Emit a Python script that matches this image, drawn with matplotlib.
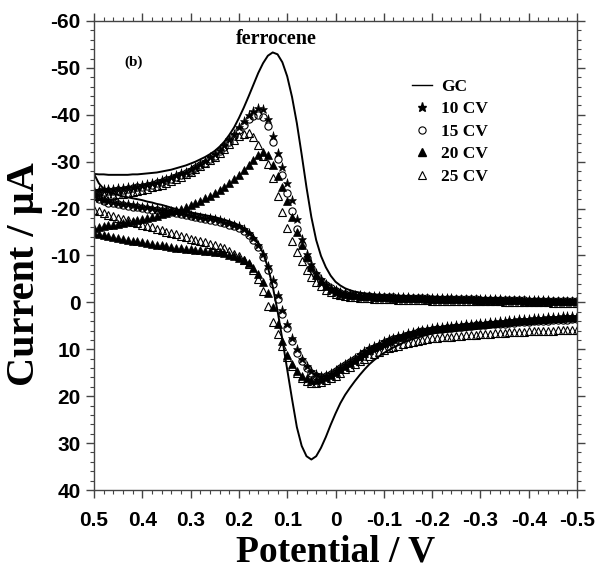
import numpy as np
import matplotlib
matplotlib.use("Agg")
import matplotlib.pyplot as plt
from matplotlib.lines import Line2D
from matplotlib.ticker import MultipleLocator, FuncFormatter

# Potential grid of the sweep: 0.50 V down to -0.50 V in 0.01 V steps (101 points)
potential = np.round(np.linspace(0.5, -0.5, 101), 2)

# ---- GC (solid line) ----
gc_anodic = [
    -27.4, -27.3, -27.3, -27.2, -27.2, -27.2, -27.2, -27.2, -27.3, -27.3,
    -27.4, -27.5, -27.6, -27.7, -27.9, -28.1, -28.3, -28.6, -28.9, -29.2,
    -29.6, -30.0, -30.5, -31.0, -31.6, -32.3, -33.2, -34.3, -35.7, -37.3,
    -39.3, -41.5, -43.9, -46.4, -48.9, -51.0, -52.6, -53.3, -52.9, -51.2,
    -48.2, -43.8, -38.2, -31.5, -24.5, -18.2, -13.3, -9.9, -7.5, -5.7,
    -4.4, -3.6, -3.0, -2.6, -2.3, -2.1, -1.9, -1.8, -1.7, -1.6,
    -1.5, -1.5, -1.4, -1.4, -1.4, -1.3, -1.3, -1.3, -1.2, -1.2,
    -1.2, -1.2, -1.1, -1.1, -1.1, -1.1, -1.0, -1.0, -1.0, -1.0,
    -1.0, -0.9, -0.9, -0.9, -0.9, -0.8, -0.8, -0.8, -0.8, -0.7,
    -0.7, -0.7, -0.7, -0.6, -0.6, -0.6, -0.6, -0.5, -0.5, -0.5,
    -0.4]
gc_cathodic = [
    -27.4, -25.4, -24.2, -23.6, -23.2, -22.9, -22.6, -22.4, -22.2, -22.0,
    -21.8, -21.5, -21.3, -21.0, -20.8, -20.5, -20.2, -19.9, -19.6, -19.4,
    -19.2, -19.0, -18.8, -18.6, -18.4, -18.2, -17.9, -17.6, -17.3, -16.9,
    -16.4, -15.8, -15.0, -14.0, -12.6, -10.5, -7.5, -3.4, 1.8, 7.9,
    14.3, 20.6, 26.6, 30.6, 32.8, 33.5, 32.8, 31.0, 28.7, 26.1,
    23.7, 21.5, 19.7, 18.2, 16.8, 15.5, 14.3, 13.2, 12.3, 11.5,
    10.8, 10.2, 9.6, 9.1, 8.6, 8.2, 7.8, 7.5, 7.2, 6.9,
    6.6, 6.5, 6.4, 6.3, 6.2, 6.1, 6.0, 5.9, 5.8, 5.7,
    5.6, 5.5, 5.4, 5.3, 5.2, 5.1, 5.0, 4.9, 4.8, 4.7,
    4.7, 4.6, 4.5, 4.4, 4.4, 4.3, 4.2, 4.2, 4.1, 4.1,
    4.0]

# ---- 10 CV (stars) ----
cv10_anodic = [
    -24.0, -24.0, -24.1, -24.1, -24.2, -24.3, -24.4, -24.5, -24.6, -24.8,
    -25.0, -25.2, -25.4, -25.7, -26.0, -26.3, -26.7, -27.1, -27.5, -27.9,
    -28.4, -28.9, -29.5, -30.2, -30.9, -31.7, -32.6, -33.6, -34.8, -36.0,
    -37.3, -38.7, -39.9, -40.8, -41.4, -41.2, -39.2, -35.5, -31.8, -28.8,
    -25.5, -21.9, -17.8, -13.6, -10.4, -8.1, -6.3, -4.9, -3.9, -3.1,
    -2.6, -2.2, -1.9, -1.7, -1.6, -1.5, -1.4, -1.4, -1.3, -1.3,
    -1.2, -1.2, -1.2, -1.1, -1.1, -1.1, -1.0, -1.0, -1.0, -1.0,
    -0.9, -0.9, -0.9, -0.9, -0.9, -0.8, -0.8, -0.8, -0.8, -0.8,
    -0.7, -0.7, -0.7, -0.7, -0.7, -0.6, -0.6, -0.6, -0.6, -0.6,
    -0.5, -0.5, -0.5, -0.5, -0.5, -0.4, -0.4, -0.4, -0.4, -0.4,
    -0.3]
cv10_cathodic = [
    -23.0, -22.3, -21.9, -21.6, -21.4, -21.2, -21.0, -20.9, -20.7, -20.6,
    -20.4, -20.3, -20.1, -20.0, -19.8, -19.7, -19.5, -19.3, -19.1, -18.9,
    -18.7, -18.5, -18.3, -18.1, -17.9, -17.7, -17.5, -17.2, -16.9, -16.6,
    -16.2, -15.6, -14.8, -13.8, -12.3, -10.3, -7.7, -4.7, -1.5, 1.6,
    4.7, 7.6, 10.0, 12.0, 13.5, 14.6, 15.3, 15.6, 15.5, 15.0,
    14.4, 13.8, 13.2, 12.5, 11.8, 11.1, 10.4, 9.8, 9.3, 8.8,
    8.3, 7.9, 7.5, 7.2, 6.9, 6.6, 6.3, 6.0, 5.8, 5.6,
    5.4, 5.3, 5.2, 5.1, 5.0, 4.9, 4.8, 4.7, 4.6, 4.5,
    4.4, 4.3, 4.2, 4.1, 4.0, 3.9, 3.8, 3.7, 3.6, 3.5,
    3.5, 3.4, 3.3, 3.3, 3.2, 3.1, 3.1, 3.0, 2.9, 2.9,
    2.8]

# ---- 15 CV (open circles) ----
cv15_anodic = [
    -23.4, -23.5, -23.6, -23.7, -23.8, -23.9, -24.0, -24.1, -24.3, -24.5,
    -24.7, -24.9, -25.1, -25.4, -25.7, -26.0, -26.4, -26.8, -27.2, -27.6,
    -28.1, -28.6, -29.2, -29.8, -30.5, -31.3, -32.2, -33.2, -34.3, -35.5,
    -36.7, -37.9, -39.0, -39.7, -40.0, -39.5, -37.6, -34.2, -30.6, -27.2,
    -23.4, -19.4, -15.6, -12.2, -9.5, -7.4, -5.8, -4.6, -3.7, -3.0,
    -2.5, -2.1, -1.8, -1.6, -1.5, -1.4, -1.3, -1.3, -1.2, -1.2,
    -1.1, -1.1, -1.1, -1.0, -1.0, -1.0, -0.9, -0.9, -0.9, -0.9,
    -0.8, -0.8, -0.8, -0.8, -0.8, -0.7, -0.7, -0.7, -0.7, -0.7,
    -0.6, -0.6, -0.6, -0.6, -0.6, -0.5, -0.5, -0.5, -0.5, -0.5,
    -0.4, -0.4, -0.4, -0.4, -0.4, -0.3, -0.3, -0.3, -0.3, -0.3,
    -0.2]
cv15_cathodic = [
    -22.6, -22.0, -21.6, -21.3, -21.1, -20.9, -20.7, -20.6, -20.4, -20.3,
    -20.1, -20.0, -19.8, -19.7, -19.5, -19.4, -19.2, -19.0, -18.8, -18.6,
    -18.4, -18.2, -18.0, -17.8, -17.6, -17.4, -17.2, -16.9, -16.6, -16.2,
    -15.8, -15.2, -14.4, -13.3, -11.8, -9.7, -7.0, -3.9, -0.7, 2.5,
    5.5, 8.3, 10.7, 12.6, 14.0, 15.0, 15.6, 15.8, 15.6, 15.2,
    14.6, 14.0, 13.4, 12.8, 12.1, 11.4, 10.8, 10.2, 9.7, 9.2,
    8.7, 8.3, 7.9, 7.6, 7.3, 7.0, 6.7, 6.4, 6.2, 6.0,
    5.8, 5.7, 5.6, 5.5, 5.4, 5.3, 5.2, 5.1, 5.0, 4.9,
    4.9, 4.8, 4.7, 4.6, 4.5, 4.5, 4.4, 4.3, 4.2, 4.2,
    4.1, 4.0, 4.0, 3.9, 3.9, 3.8, 3.8, 3.7, 3.7, 3.6,
    3.6]

# ---- 20 CV (filled triangles) ----
cv20_anodic = [
    -15.8, -16.0, -16.2, -16.4, -16.6, -16.8, -17.0, -17.2, -17.4, -17.6,
    -17.8, -18.0, -18.2, -18.5, -18.8, -19.1, -19.4, -19.7, -20.0, -20.4,
    -20.8, -21.2, -21.7, -22.2, -22.7, -23.3, -23.9, -24.6, -25.4, -26.3,
    -27.2, -28.2, -29.2, -30.3, -31.5, -32.1, -31.4, -29.2, -27.0, -24.6,
    -21.6, -18.2, -15.0, -12.3, -9.6, -7.5, -5.8, -4.6, -3.6, -2.9,
    -2.4, -2.0, -1.8, -1.6, -1.5, -1.4, -1.3, -1.3, -1.2, -1.2,
    -1.1, -1.1, -1.0, -1.0, -1.0, -0.9, -0.9, -0.9, -0.9, -0.8,
    -0.8, -0.8, -0.8, -0.8, -0.7, -0.7, -0.7, -0.7, -0.7, -0.6,
    -0.6, -0.6, -0.6, -0.6, -0.5, -0.5, -0.5, -0.5, -0.5, -0.4,
    -0.4, -0.4, -0.4, -0.4, -0.3, -0.3, -0.3, -0.3, -0.3, -0.2,
    -0.2]
cv20_cathodic = [
    -14.7, -14.5, -14.3, -14.1, -13.9, -13.7, -13.5, -13.3, -13.1, -13.0,
    -12.8, -12.6, -12.5, -12.3, -12.2, -12.0, -11.9, -11.7, -11.6, -11.4,
    -11.3, -11.2, -11.1, -11.0, -10.9, -10.8, -10.7, -10.5, -10.2, -9.9,
    -9.5, -9.0, -8.3, -7.4, -6.0, -4.3, -2.0, 1.0, 4.6, 8.3,
    11.2, 13.2, 14.6, 15.6, 16.2, 16.5, 16.5, 16.3, 15.9, 15.4,
    14.8, 14.2, 13.5, 12.9, 12.2, 11.5, 10.8, 10.2, 9.6, 9.1,
    8.6, 8.2, 7.8, 7.4, 7.1, 6.8, 6.5, 6.2, 6.0, 5.8,
    5.6, 5.5, 5.4, 5.3, 5.2, 5.1, 5.0, 4.9, 4.8, 4.7,
    4.6, 4.5, 4.4, 4.3, 4.2, 4.1, 4.0, 3.9, 3.8, 3.7,
    3.7, 3.6, 3.5, 3.5, 3.4, 3.3, 3.3, 3.2, 3.1, 3.1,
    3.0]

# ---- 25 CV (open triangles) ----
cv25_anodic = [
    -22.6, -22.7, -22.8, -22.9, -23.0, -23.1, -23.2, -23.4, -23.6, -23.8,
    -24.0, -24.2, -24.5, -24.8, -25.1, -25.5, -25.9, -26.3, -26.8, -27.3,
    -27.8, -28.4, -29.0, -29.7, -30.4, -31.1, -31.9, -32.8, -33.7, -34.6,
    -35.4, -35.9, -36.1, -35.3, -33.5, -31.2, -29.6, -26.6, -22.7, -19.2,
    -15.9, -13.0, -10.7, -8.8, -7.0, -5.5, -4.3, -3.4, -2.7, -2.2,
    -1.8, -1.5, -1.3, -1.2, -1.1, -1.0, -0.9, -0.9, -0.8, -0.8,
    -0.7, -0.7, -0.7, -0.6, -0.6, -0.6, -0.5, -0.5, -0.5, -0.5,
    -0.4, -0.4, -0.4, -0.4, -0.4, -0.3, -0.3, -0.3, -0.3, -0.3,
    -0.2, -0.2, -0.2, -0.2, -0.2, -0.1, -0.1, -0.1, -0.1, -0.1,
    0.0, 0.0, 0.0, 0.0, 0.0, 0.1, 0.1, 0.1, 0.1, 0.1,
    0.2]
cv25_cathodic = [
    -19.8, -19.4, -19.0, -18.7, -18.4, -18.1, -17.8, -17.5, -17.2, -16.9,
    -16.6, -16.3, -16.0, -15.7, -15.4, -15.1, -14.8, -14.5, -14.2, -13.9,
    -13.6, -13.4, -13.1, -12.8, -12.5, -12.2, -11.9, -11.5, -11.0, -10.4,
    -9.8, -9.1, -8.2, -6.9, -5.0, -2.4, 0.8, 4.2, 6.8, 9.2,
    11.6, 13.5, 15.0, 16.1, 16.8, 17.1, 17.1, 16.9, 16.6, 16.2,
    15.6, 15.0, 14.3, 13.7, 13.1, 12.5, 12.0, 11.5, 11.0, 10.6,
    10.2, 9.8, 9.5, 9.2, 8.9, 8.6, 8.4, 8.2, 8.0, 7.8,
    7.6, 7.5, 7.4, 7.3, 7.3, 7.2, 7.1, 7.0, 7.0, 6.9,
    6.8, 6.8, 6.7, 6.6, 6.6, 6.5, 6.4, 6.4, 6.3, 6.3,
    6.2, 6.2, 6.1, 6.1, 6.0, 6.0, 5.9, 5.9, 5.9, 5.8,
    5.8]

legend_labels = ["GC", "10 CV", "15 CV", "20 CV", "25 CV"]
x_ticks = [0.5, 0.4, 0.3, 0.2, 0.1, 0.0, -0.1, -0.2, -0.3, -0.4, -0.5]
y_ticks = [-60, -50, -40, -30, -20, -10, 0, 10, 20, 30, 40]

plt.rcParams['axes.unicode_minus'] = False
serif = ['Liberation Serif', 'DejaVu Serif']
sans = ['Liberation Sans', 'DejaVu Sans']

fig = plt.figure(figsize=(5.95, 5.69), dpi=100)
ax = fig.add_axes([94/595, 1-490/569, (577-94)/595, (490-21)/569])

mew = 0.8
ax.plot(potential, cv25_anodic, ls='none', marker='^', ms=5.4, mfc='none', mec='black', mew=mew)
ax.plot(potential, cv25_cathodic, ls='none', marker='^', ms=5.4, mfc='none', mec='black', mew=mew)
ax.plot(potential, cv15_anodic, ls='none', marker='o', ms=5.2, mfc='none', mec='black', mew=mew)
ax.plot(potential, cv15_cathodic, ls='none', marker='o', ms=5.2, mfc='none', mec='black', mew=mew)
ax.plot(potential, cv20_anodic, ls='none', marker='^', ms=5.4, mfc='black', mec='black', mew=0.5)
ax.plot(potential, cv20_cathodic, ls='none', marker='^', ms=5.4, mfc='black', mec='black', mew=0.5)
ax.plot(potential, cv10_anodic, ls='none', marker='*', ms=6.8, mfc='black', mec='black', mew=0.4)
ax.plot(potential, cv10_cathodic, ls='none', marker='*', ms=6.8, mfc='black', mec='black', mew=0.4)
ax.plot(potential, gc_anodic, color='black', lw=1.4)
ax.plot(potential, gc_cathodic, color='black', lw=1.4)

ax.set_xlim(0.5, -0.5)
ax.set_ylim(40, -60)
ax.set_xticks(x_ticks)
ax.set_yticks(y_ticks)
ax.xaxis.set_minor_locator(MultipleLocator(0.02))
ax.yaxis.set_minor_locator(MultipleLocator(2))
ax.xaxis.set_major_formatter(FuncFormatter(lambda v, p: "0" if abs(v) < 1e-9 else f"{v:g}"))
ax.yaxis.set_major_formatter(FuncFormatter(lambda v, p: f"{v:g}"))
ax.tick_params(which='both', direction='out', top=True, right=True, color='#444444')
ax.tick_params(which='major', length=6, width=1.0)
ax.tick_params(which='minor', length=3, width=0.8)
ax.tick_params(axis='x', which='major', pad=9)
ax.tick_params(axis='y', which='major', pad=3.5)
for lab in ax.get_xticklabels() + ax.get_yticklabels():
    lab.set_fontfamily(sans)
    lab.set_fontweight('bold')
    lab.set_fontsize(15)
for sp in ax.spines.values():
    sp.set_linewidth(1.0)
    sp.set_color('#444444')

ax.set_xlabel("Potential / V", fontfamily=serif, fontweight='bold', fontsize=27)
ax.xaxis.set_label_coords(0.5, -0.095)
ax.xaxis.label.set_verticalalignment('top')
ax.set_ylabel("Current / µA", fontfamily=serif, fontweight='bold', fontsize=29)
ax.yaxis.set_label_coords(-0.105, 0.46)

ax.text(0.378, 0.962, "ferrocene", transform=ax.transAxes, ha='center', va='center',
        fontfamily=serif, fontweight='bold', fontsize=14.5)
ax.text(0.081, 0.913, "(b)", transform=ax.transAxes, ha='center', va='center',
        fontfamily=serif, fontweight='bold', fontsize=11)

handles = [
    Line2D([], [], color='black', lw=1.0),
    Line2D([], [], ls='none', marker='*', ms=6.8, mfc='black', mec='black'),
    Line2D([], [], ls='none', marker='o', ms=5.2, mfc='none', mec='black', mew=mew),
    Line2D([], [], ls='none', marker='^', ms=5.4, mfc='black', mec='black'),
    Line2D([], [], ls='none', marker='^', ms=5.4, mfc='none', mec='black', mew=mew),
]
leg = ax.legend(handles, legend_labels, loc='upper left', bbox_to_anchor=(0.625, 0.91),
                frameon=False, handlelength=1.2, handletextpad=0.5, labelspacing=0.36,
                prop={'family': serif, 'weight': 'bold', 'size': 12.5})

fig.savefig("out.png", dpi=100)
